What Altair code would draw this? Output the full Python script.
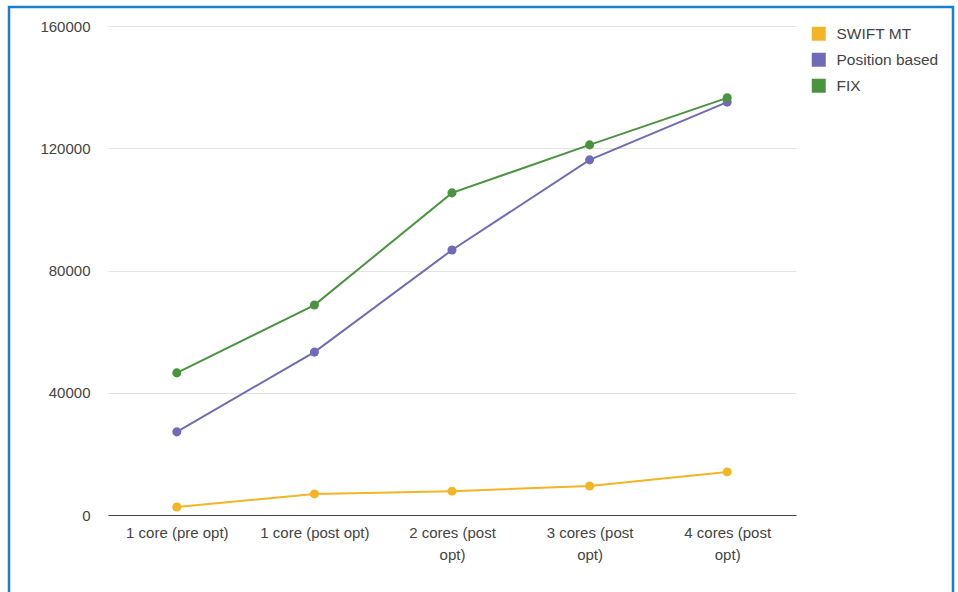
import altair as alt
import pandas as pd
import json

categories = ["1 core (pre opt)", "1 core (post opt)", "2 cores (post opt)",
              "3 cores (post opt)", "4 cores (post opt)"]
category_lines = [["1 core (pre opt)"], ["1 core (post opt)"], ["2 cores (post", "opt)"],
                  ["3 cores (post", "opt)"], ["4 cores (post", "opt)"]]
series_names = ["SWIFT MT", "Position based", "FIX"]
swift_mt = [2600, 6900, 7800, 9500, 14100]
position_based = [27200, 53300, 86700, 116200, 135100]
fix = [46500, 68700, 105400, 121100, 136500]
series_colors = ["#f3b526", "#6f6bb8", "#4a9440"]
y_ticks = [0, 40000, 80000, 120000, 160000]

rows = []
for name, vals in zip(series_names, [swift_mt, position_based, fix]):
    for c, v in zip(categories, vals):
        rows.append({"category": c, "series": name, "value": v})
df = pd.DataFrame(rows)

label_expr = ""
for c, lines in zip(categories, category_lines):
    label_expr += f"datum.value == {json.dumps(c)} ? {json.dumps(lines)} : "
label_expr += "datum.value"

FONT = "Liberation Sans"

x = alt.X("category:N", sort=categories, title=None,
          scale=alt.Scale(type="point", padding=0.5),
          axis=alt.Axis(labelAngle=0, labelExpr=label_expr, ticks=False,
                        domainColor="#444444", domainWidth=1,
                        labelFontSize=15, labelColor="#444444", labelFont=FONT,
                        labelPadding=10, labelLineHeight=22, labelBaseline="top"))
y = alt.Y("value:Q", title=None,
          scale=alt.Scale(domain=[0, 160000], nice=False),
          axis=alt.Axis(values=y_ticks, format="d", domain=False, ticks=False,
                        gridColor="#e3e3e3", labelFontSize=15, labelColor="#444444",
                        labelFont=FONT, labelPadding=18))
color_scale = alt.Scale(domain=series_names, range=series_colors)
color = alt.Color("series:N", scale=color_scale,
                  legend=alt.Legend(title=None, orient="none", legendX=703, legendY=0,
                                    symbolType="square", symbolSize=196, symbolStrokeWidth=0,
                                    symbolOpacity=1,
                                    labelFontSize=15.5, labelColor="#444444", labelFont=FONT,
                                    labelOffset=10, rowPadding=9))

base = alt.Chart(df)
lines = base.mark_line(strokeWidth=2).encode(x=x, y=y, color=color, detail="series:N")
points = base.mark_circle(size=82, opacity=1).encode(
    x=x, y=y, color=alt.Color("series:N", scale=color_scale, legend=None))

frame = alt.Chart(pd.DataFrame({"a": [0]})).mark_rect(
    fill=None, stroke="#1a7fd0", strokeWidth=2.5
).encode(x=alt.value(-99), x2=alt.value(845), y=alt.value(-19), y2=alt.value(620))

chart = alt.layer(frame, lines, points).properties(
    width=688, height=489,
    padding={"left": 108, "top": 26, "right": 162, "bottom": 77},
    autosize=alt.AutoSizeParams(type="none"),
    background="white",
).configure_view(stroke=None)

chart.save("out.html", embed_options={"renderer": "svg", "actions": False})
